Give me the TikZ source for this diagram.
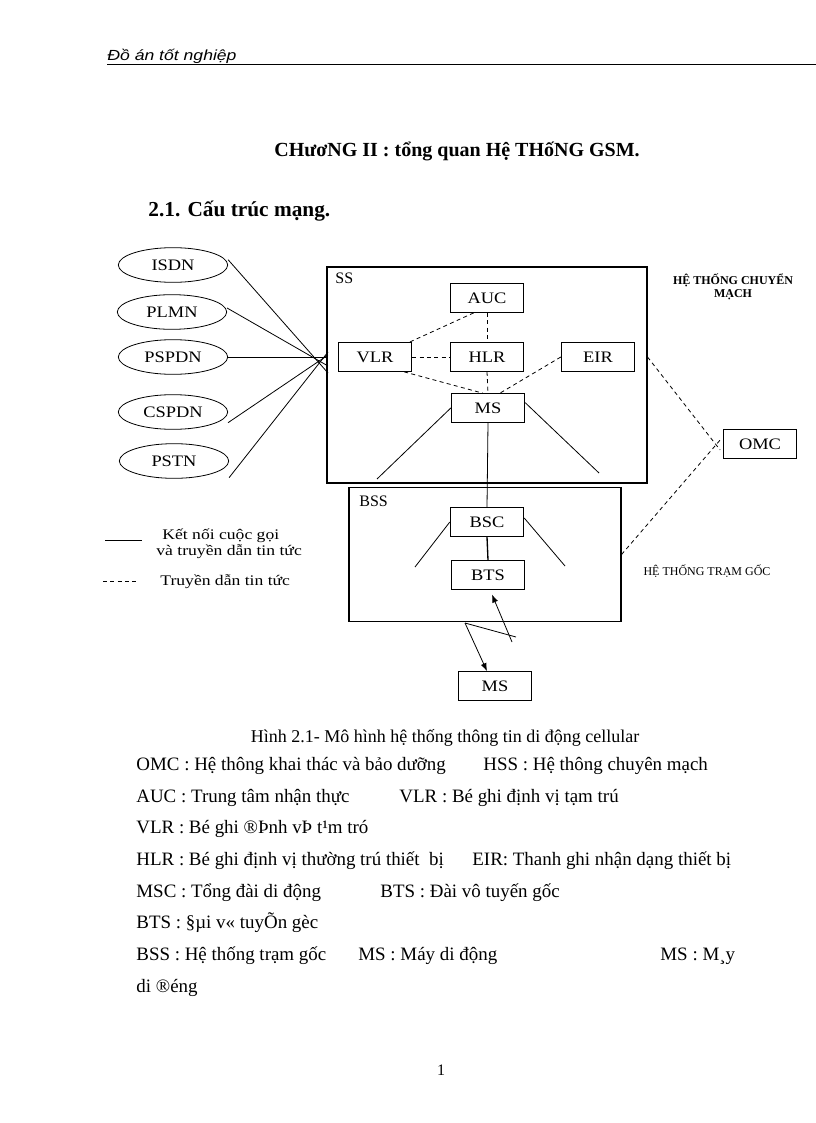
\documentclass[tikz,border=0pt]{standalone}
\usepackage{fontspec}
\setmainfont{Liberation Serif}
\newfontfamily\legendfont[FakeStretch=1.2]{Liberation Serif}
\newfontfamily\labelfont[FakeStretch=1.15]{Liberation Serif}
\newfontfamily\headfont[FakeStretch=1.2]{Liberation Sans}
\usetikzlibrary{shapes.geometric,arrows.meta}

\tikzset{
  unitbox/.style={draw, line width=0.8pt, minimum width=55pt, minimum height=21.5pt, inner sep=0pt, font=\labelfont\fontsize{12}{14}\selectfont},
  netnode/.style={ellipse, draw, minimum width=82pt, minimum height=26pt, inner sep=0pt, font=\labelfont\fontsize{12}{14}\selectfont},
  subsys/.style={draw, line width=0.8pt, inner sep=0pt},
  infoline/.style={dash pattern=on 3pt off 2.5pt},
  bodyline/.style={anchor=base west, inner sep=0pt, font=\fontsize{14.2}{17}\selectfont},
  legendtext/.style={anchor=base west, inner sep=0pt, font=\legendfont\fontsize{11}{13}\selectfont},
}

\begin{document}
\begin{tikzpicture}[x=0.75pt, y=-0.75pt, line width=0.6pt]
\path[fill=white, use as bounding box] (0,0) rectangle (816,1123);

% page head
\node[anchor=base west, inner sep=0pt, font=\headfont\itshape\fontsize{11}{12}\selectfont] (head) at (107,61) {Đồ án tốt nghiệp};
\draw[line width=0.5pt] (107,64) -- (816,64);
\node[anchor=base, inner sep=0pt, font=\bfseries\fontsize{15}{18}\selectfont] (title) at (457,157) {CHươNG II : tổng quan Hệ THốNG GSM.};
\node[anchor=base west, inner sep=0pt, font=\bfseries\fontsize{16}{19}\selectfont] (section) at (148,217) {2.1. Cấu trúc mạng.};

% outer networks
\node[netnode] (isdn) at (173,265) {ISDN};
\node[netnode] (plmn) at (172,312) {PLMN};
\node[netnode] (pspdn) at (173,357) {PSPDN};
\node[netnode] (cspdn) at (173,412) {CSPDN};
\node[netnode] (pstn) at (174,461) {PSTN};

% switching subsystem
\node[subsys, minimum width=240pt, minimum height=162pt] (ss) at (487,375) {};
\node[anchor=north west, inner sep=0pt, font=\fontsize{12}{14}\selectfont] (sslabel) at (335,273) {SS};
\node[unitbox] (auc) at (487,298) {AUC};
\node[unitbox] (vlr) at (375,357) {VLR};
\node[unitbox] (hlr) at (487,357) {HLR};
\node[unitbox] (eir) at (598,357) {EIR};
\node[unitbox] (msc) at (488,408) {MS};
\node[align=center, inner sep=0pt, font=\bfseries\fontsize{9}{10}\selectfont] (sstitle) at (733,287) {HỆ THỐNG CHUYỂN\\MẠCH};

% base station subsystem
\node[subsys, minimum width=204pt, minimum height=100pt] (bss) at (485,554.5) {};
\node[anchor=north west, inner sep=0pt, font=\fontsize{12}{14}\selectfont] (bsslabel) at (359,496) {BSS};
\node[unitbox] (bsc) at (487,522) {BSC};
\node[unitbox] (bts) at (488,575) {BTS};
\node[inner sep=0pt, font=\fontsize{9}{11}\selectfont] (bsstitle) at (707,571) {HỆ THỐNG TRẠM GỐC};

\node[unitbox] (omc) at (760,444) {OMC};
\node[unitbox] (ms) at (495,686) {MS};

% free ends
\coordinate (hub) at (328,357);
\coordinate (sl) at (377,479);
\coordinate (sr) at (599,473);
\coordinate (bl) at (415,567);
\coordinate (br) at (565,566);
\coordinate (zt) at (512,642);
\coordinate (zb) at (465,623);
\coordinate (zm) at (516,637);

% call connections
\draw ([yshift=4pt]isdn.east) -- (328,373);
\draw ([yshift=3pt]plmn.east) -- (328,366);
\draw (pspdn.east) -- (hub);
\draw ([yshift=-8pt]cspdn.east) -- (328,355);
\draw ([yshift=-12.5pt]pstn.east) -- (328,352);
\draw (msc.west) -- (sl);
\draw ([yshift=4pt]msc.east) -- (sr);
\draw (msc.south) -- (bsc.north);
\draw (bsc.west) -- (bl);
\draw ([yshift=3pt]bsc.east) -- (br);
\draw[line width=1pt] (bsc.south) -- (bts.north);

% signalling
\draw[infoline] ([xshift=-10pt]auc.south) -- ([xshift=-2pt]vlr.north east);
\draw[infoline] (auc.south) -- (hlr.north);
\draw[infoline] (vlr.east) -- (hlr.west);
\draw[infoline] ([xshift=-6pt]vlr.south east) -- ([xshift=-4pt]msc.north);
\draw[infoline] (hlr.south) -- (msc.north);
\draw[infoline] (eir.west) -- ([xshift=9pt]msc.north);
\draw[infoline] (ss.east |- eir) -- ([xshift=-2pt,yshift=-4.5pt]omc.west);
\draw[infoline] (bss.east) -- ([xshift=-2pt,yshift=3pt]omc.west);

% radio link
\draw[-{Latex[length=6pt,width=4.5pt]}] (zt) -- ([xshift=3pt,yshift=-3.5pt]bts.south);
\draw (zb) -- (zm);
\draw[-{Latex[length=6pt,width=4.5pt]}] (zb) -- ([xshift=-6pt]ms.north);

% legend
\draw (105,540) -- (142,540);
\draw[infoline] (103,581) -- (138,581);
\node[legendtext] (lg1) at (162,539) {Kết nối cuộc gọi};
\node[legendtext] (lg2) at (156,555) {và truyền dẫn tin tức};
\node[legendtext] (lg3) at (160,585) {Truyền dẫn tin tức};

% caption and notes
\node[anchor=base, inner sep=0pt, font=\fontsize{13.5}{16}\selectfont] (caption) at (445,742) {Hình 2.1- Mô hình hệ thống thông tin di động cellular};
\node[bodyline] (n1) at (136,770) {OMC : Hệ thông khai thác và bảo dưỡng};
\node[bodyline] (n1b) at (483,770) {HSS : Hệ thông chuyên mạch};
\node[bodyline] (n2) at (136,802) {AUC : Trung tâm nhận thực};
\node[bodyline] (n2b) at (399,802) {VLR : Bé ghi định vị tạm trú};
\node[bodyline] (n3) at (136,833) {VLR : Bé ghi ®Þnh vÞ t¹m tró};
\node[bodyline] (n4) at (136,865) {HLR : Bé ghi định vị thường trú thiết~ bị};
\node[bodyline] (n4b) at (472,865) {EIR: Thanh ghi nhận dạng thiết bị};
\node[bodyline] (n5) at (136,897) {MSC : Tổng đài di động};
\node[bodyline] (n5b) at (380,897) {BTS : Đài vô tuyến gốc};
\node[bodyline] (n6) at (136,928) {BTS : §µi v« tuyÕn gèc};
\node[bodyline] (n7) at (136,960) {BSS : Hệ thống trạm gốc};
\node[bodyline] (n7b) at (358,960) {MS : Máy di động};
\node[bodyline] (n7c) at (660,960) {MS : M¸y};
\node[bodyline] (n8) at (136,992) {di ®éng};
\node[anchor=base, inner sep=0pt, font=\fontsize{12}{14}\selectfont] (pageno) at (441,1075) {1};
\end{tikzpicture}
\end{document}
